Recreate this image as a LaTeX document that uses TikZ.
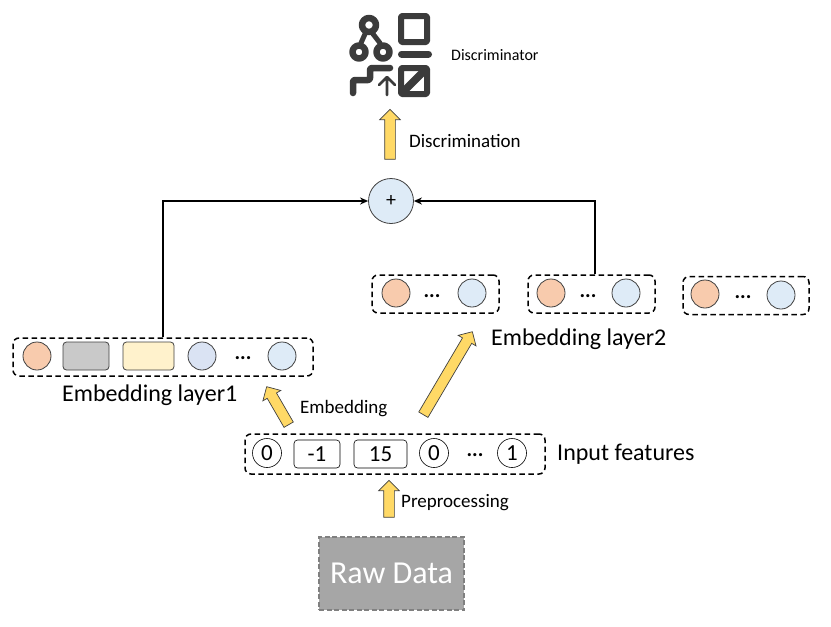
\documentclass[tikz,border=0pt]{standalone}
\usepackage{fontspec}
\setmainfont{Carlito}
\usetikzlibrary{shapes.arrows,calc,arrows.meta}
\newcommand{\blockarrow}[2]{\path let \p1=($(#2)-(#1)$), \n1={atan2(\y1,\x1)}, \n2={veclen(\x1,\y1)} in node[yarrow, minimum height=\n2, rotate=\n1] at ($(#1)!.5!(#2)$) {};}
\tikzset{
  x=1pt,y=-1pt,
  dashbox/.style={draw=black,line width=1.5pt,dash pattern=on 5.5pt off 3.5pt,rounded corners=6pt,inner sep=0pt,minimum height=38pt},
  disc/.style={circle,draw=black!75,line width=0.8pt,minimum size=28pt,inner sep=0pt},
  orangec/.style={disc,fill=orangefill},
  bluec/.style={disc,fill=bluefill},
  paleblue/.style={disc,fill=palefill},
  bar/.style={draw=black!75,line width=0.8pt,rounded corners=3.5pt,inner sep=0pt,minimum height=28pt},
  numc/.style={circle,draw=black,line width=0.6pt,minimum size=29pt,inner sep=0pt,font=\fontsize{23}{23}\selectfont},
  numr/.style={draw=black,line width=0.6pt,rounded corners=3.5pt,inner sep=0pt,minimum height=28pt,font=\fontsize{23}{23}\selectfont},
  dots/.style={inner sep=0pt,font=\fontsize{21}{21}\selectfont\bfseries},
  lab/.style={anchor=west,inner sep=0pt,font=\fontsize{19}{19}\selectfont},
  biglab/.style={anchor=west,inner sep=0pt,font=\fontsize{24}{24}\selectfont},
  yarrow/.style={single arrow,draw=black!75,fill=arrowfill,line width=0.7pt,inner xsep=0pt,inner ysep=5pt,single arrow head extend=5pt,single arrow tip angle=90,single arrow head indent=0pt},
  conn/.style={draw=black,line width=1.5pt,-{Stealth[length=8pt,width=7pt]}},
  icon/.style={draw=icondark,line cap=round,line join=round},
}
\definecolor{orangefill}{HTML}{F8CBAD}
\definecolor{bluefill}{HTML}{DAE3F3}
\definecolor{palefill}{HTML}{DEEBF7}
\definecolor{grayfill}{HTML}{C9C9C9}
\definecolor{yellowfill}{HTML}{FFF2CC}
\definecolor{arrowfill}{HTML}{FFD966}
\definecolor{icondark}{HTML}{3B3B3B}
\begin{document}
\begin{tikzpicture}
\useasboundingbox (0,0) rectangle (831,627);
% icon
\draw[icon,line width=6.5pt] (369,25) circle (7);
\draw[icon,line width=6.5pt] (359,52) circle (6.5);
\draw[icon,line width=6.5pt] (383,52) circle (6.5);
\draw[icon,line width=5pt] (365,34) -- (361,43) (373,34) -- (380,43);
\draw[icon,line width=6pt,rounded corners=1pt] (401,16) rectangle (427,42);
\draw[icon,line width=7pt] (401.5,54) -- (428.5,54);
\draw[icon,line width=6pt,rounded corners=1pt] (401,68) rectangle (427,94);
\draw[icon,line width=7.5pt,line cap=butt] (401,94) -- (427,68);
\draw[icon,line width=6.5pt,rounded corners=2pt] (353,93) -- (353,80) -- (370,80) -- (370,68) -- (390,68);
\draw[icon,line width=2.8pt] (387,95) -- (387,78) (379,85) -- (387,77) -- (395,85);
% nodes
\node[lab,font=\fontsize{16}{16}\selectfont] (tdisc) at (451,55) {Discriminator};
\node[lab] (tdiscn) at (409,141) {Discrimination};
\node[circle,draw=black!75,fill=palefill,line width=0.8pt,minimum size=45pt,inner sep=0pt,font=\fontsize{20}{20}\selectfont] (plus) at (391,201) {+};
% layer 2 boxes
\node[dashbox,minimum width=127pt] (boxa) at (435.5,294) {};
\node[orangec] (a1) at (396,293) {};
\node[dots] (a2) at (432,296) {...};
\node[paleblue] (a3) at (472,293) {};
\node[dashbox,minimum width=127pt] (boxb) at (591.5,294) {};
\node[orangec] (b1) at (551,293) {};
\node[dots] (b2) at (588,296) {...};
\node[paleblue] (b3) at (626,293) {};
\node[dashbox,minimum width=126pt] (boxc) at (746,295.5) {};
\node[orangec] (c1) at (705,294) {};
\node[dots] (c2) at (743,297) {...};
\node[paleblue] (c3) at (781,295) {};
\node[biglab] (tl2) at (491,339) {Embedding layer2};
% layer 1
\node[dashbox,minimum width=300pt] (layerone) at (163,357) {};
\node[orangec] (d1) at (37,356) {};
\node[bar,fill=grayfill,minimum width=46pt] (d2) at (86,356) {};
\node[bar,fill=yellowfill,minimum width=51pt] (d3) at (148.5,356) {};
\node[bluec] (d4) at (202,356) {};
\node[dots] (d5) at (243,358) {...};
\node[paleblue] (d6) at (282,356) {};
\node[biglab] (tl1) at (62,395) {Embedding layer1};
\node[lab] (temb) at (300,409) {Embedding};
% input
\node[dashbox,minimum width=300pt,minimum height=40pt] (input) at (395,454) {};
\node[numc] (e1) at (267,453) {0};
\node[numr,minimum width=46pt] (e2) at (317,454) {-1};
\node[numr,minimum width=53pt] (e3) at (380.5,454) {15};
\node[numc] (e4) at (434,453) {0};
\node[dots] (e5) at (475,455) {...};
\node[numc] (e6) at (512,453) {1};
\node[lab,font=\fontsize{24}{24}\selectfont] (tin) at (557,454.5) {Input features};
\node[lab] (tpre) at (401,503) {Preprocessing};
\node[draw=black!50,fill=black!35,line width=1.5pt,dash pattern=on 5pt off 2.5pt,minimum width=145pt,minimum height=73pt,inner sep=0pt,text=white,font=\fontsize{32}{32}\selectfont] (raw) at (391.5,573.5) {Raw Data};
% connectors
\draw[conn] (layerone.north) |- (plus.west);
\draw[conn] ([xshift=3.5pt]boxb.north) |- (plus.east);
% block arrows
\coordinate (p0) at (389,520); \coordinate (p1) at (389,483);
\coordinate (f0) at (290,427); \coordinate (f1) at (268,389);
\coordinate (g0) at (422,417); \coordinate (g1) at (471,334);
\coordinate (h0) at (390,162); \coordinate (h1) at (390,112);
\blockarrow{p0}{p1}
\blockarrow{f0}{f1}
\blockarrow{g0}{g1}
\blockarrow{h0}{h1}
\end{tikzpicture}
\end{document}
